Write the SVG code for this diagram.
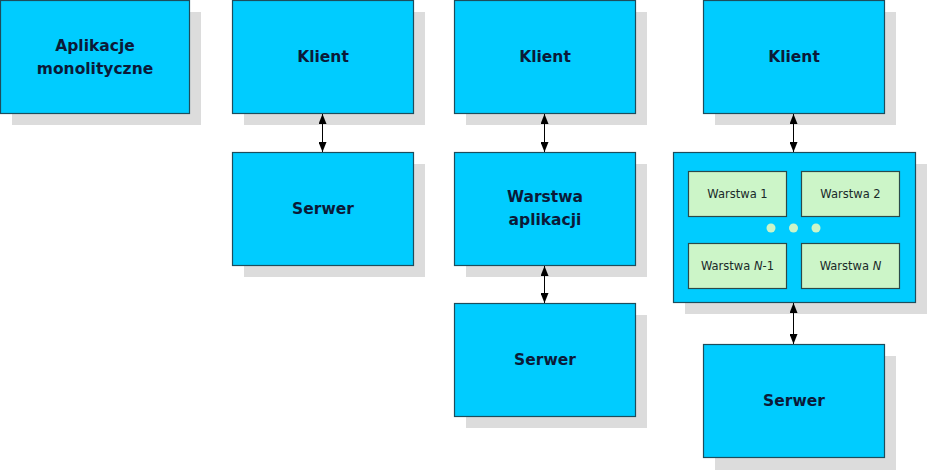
<svg xmlns="http://www.w3.org/2000/svg" width="927" height="470" viewBox="0 0 927 470">
<defs>
<style>
.sh{fill:#dcdcdc}
.bx{fill:#00ccff;stroke:#1d4d5c;stroke-width:1.2}
.in{fill:#ccf5c8;stroke:#2a4a4a;stroke-width:1.2}
.t{font-family:"DejaVu Sans",Verdana,sans-serif;font-weight:bold;font-size:15.5px;fill:#0b1a38;text-anchor:middle}
.s{font-family:"DejaVu Sans",Verdana,sans-serif;font-size:11.5px;fill:#1a2a2a;text-anchor:middle}
.c{stroke:#000;stroke-width:1;fill:none;marker-start:url(#a);marker-end:url(#a)}
.dot{fill:#ccf5c8}
</style>
<marker id="a" viewBox="0 0 10 10" refX="10" refY="5" markerWidth="10" markerHeight="8" markerUnits="userSpaceOnUse" orient="auto-start-reverse" preserveAspectRatio="none">
<path d="M0,0 L10,5 L0,10 z" fill="#000"/>
</marker>
</defs>
<g id="monolit">
<rect class="sh" x="12" y="12" width="189" height="113"/>
<rect class="bx" x="0.5" y="0.5" width="189" height="113"/>
<text class="t" x="95" y="51">Aplikacje</text>
<text class="t" x="95" y="74">monolityczne</text>
</g>
<g id="klient2">
<rect class="sh" x="244" y="12" width="181" height="113"/>
<rect class="bx" x="232.5" y="0.5" width="181" height="113"/>
<text class="t" x="323" y="62">Klient</text>
</g>
<g id="serwer2">
<rect class="sh" x="244" y="164" width="181" height="113"/>
<rect class="bx" x="232.5" y="152.5" width="181" height="113"/>
<text class="t" x="323" y="214">Serwer</text>
</g>
<g id="klient3">
<rect class="sh" x="466" y="12" width="181" height="113"/>
<rect class="bx" x="454.5" y="0.5" width="181" height="113"/>
<text class="t" x="545" y="62">Klient</text>
</g>
<g id="warstwa3">
<rect class="sh" x="466" y="164" width="181" height="113"/>
<rect class="bx" x="454.5" y="152.5" width="181" height="113"/>
<text class="t" x="545" y="202">Warstwa</text>
<text class="t" x="545" y="225">aplikacji</text>
</g>
<g id="serwer3">
<rect class="sh" x="466" y="315" width="181" height="113"/>
<rect class="bx" x="454.5" y="303.5" width="181" height="113"/>
<text class="t" x="545" y="365">Serwer</text>
</g>
<g id="klient4">
<rect class="sh" x="715" y="12" width="181" height="113"/>
<rect class="bx" x="703.5" y="0.5" width="181" height="113"/>
<text class="t" x="794" y="62">Klient</text>
</g>
<g id="warstwy4">
<rect class="sh" x="685" y="164" width="242" height="150"/>
<rect class="bx" x="673.5" y="152.5" width="242" height="150"/>
<g id="w1">
<rect class="in" x="688.5" y="171.5" width="98" height="45"/>
<text class="s" x="737.5" y="198">Warstwa 1</text>
</g>
<g id="w2">
<rect class="in" x="801.5" y="171.5" width="98" height="45"/>
<text class="s" x="850.5" y="198">Warstwa 2</text>
</g>
<g id="wn1">
<rect class="in" x="688.5" y="243.5" width="98" height="45"/>
<text class="s" x="737.5" y="270">Warstwa <tspan font-style="italic">N</tspan>-1</text>
</g>
<g id="wn">
<rect class="in" x="801.5" y="243.5" width="98" height="45"/>
<text class="s" x="850.5" y="270">Warstwa <tspan font-style="italic">N</tspan></text>
</g>
<circle class="dot" cx="771" cy="228" r="4.5"/>
<circle class="dot" cx="793.5" cy="228" r="4.5"/>
<circle class="dot" cx="816" cy="228" r="4.5"/>
</g>
<g id="serwer4">
<rect class="sh" x="715" y="356" width="181" height="114"/>
<rect class="bx" x="703.5" y="344.5" width="181" height="113"/>
<text class="t" x="794" y="406">Serwer</text>
</g>
<g id="connectors">
<line class="c" x1="322.5" y1="114" x2="322.5" y2="152"/>
<line class="c" x1="544.5" y1="114" x2="544.5" y2="152"/>
<line class="c" x1="544.5" y1="266" x2="544.5" y2="303"/>
<line class="c" x1="793.5" y1="114" x2="793.5" y2="152"/>
<line class="c" x1="793.5" y1="303" x2="793.5" y2="344"/>
</g>
</svg>
